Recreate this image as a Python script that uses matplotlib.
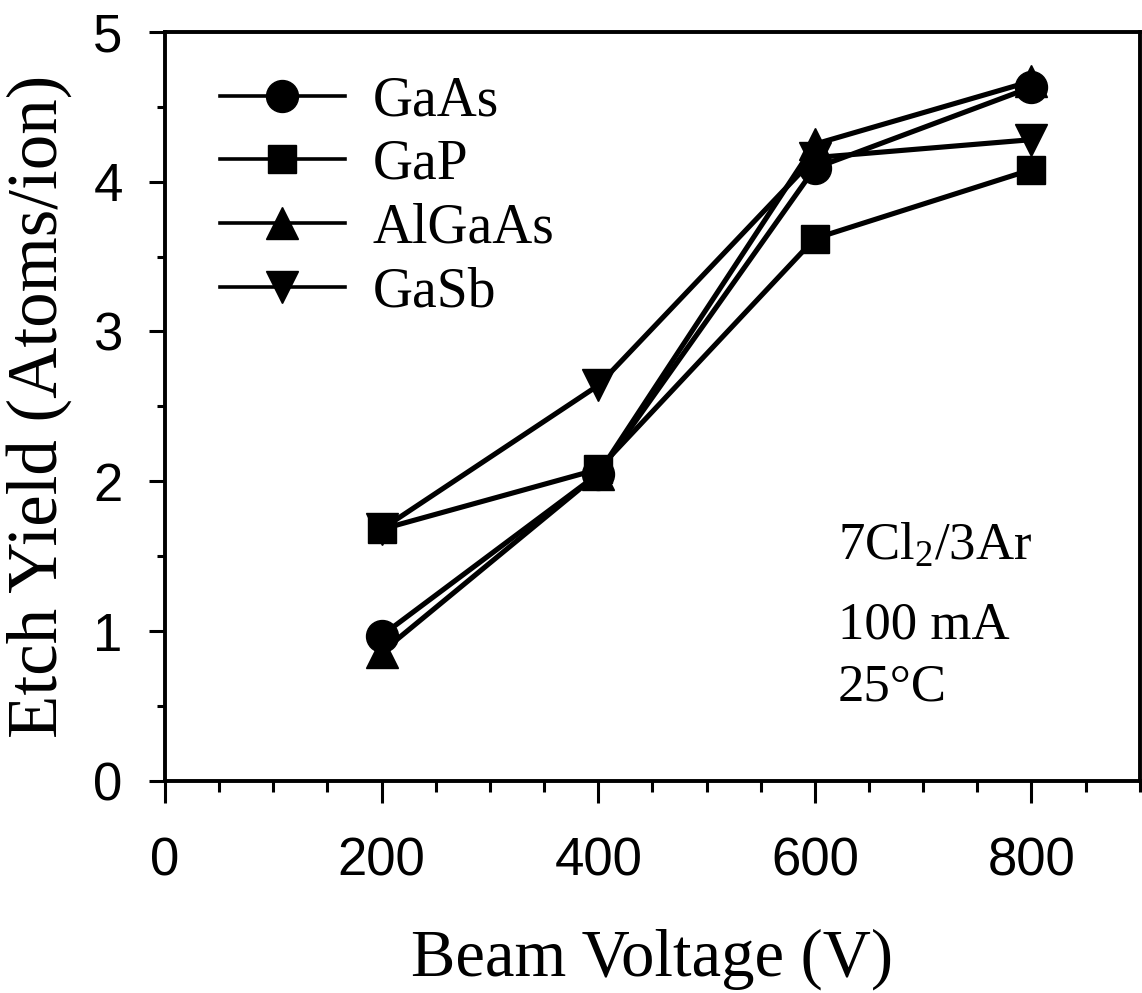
import matplotlib
matplotlib.use("Agg")
import matplotlib.pyplot as plt
from matplotlib.ticker import MultipleLocator

# Etch yield vs. beam voltage for four III-V materials
voltage = [200, 400, 600, 800]
gaas = [0.97, 2.05, 4.09, 4.63]
gap = [1.68, 2.08, 3.62, 4.08]
algaas = [0.86, 2.05, 4.25, 4.67]
gasb = [1.68, 2.64, 4.16, 4.28]

series = [
    ("GaAs", gaas, "o", 23),
    ("GaP", gap, "s", 20),
    ("AlGaAs", algaas, "^", 23),
    ("GaSb", gasb, "v", 23),
]

serif = "Liberation Serif"
sans = "Liberation Sans"
plt.rcParams["mathtext.fontset"] = "custom"
plt.rcParams["mathtext.rm"] = serif
plt.rcParams["mathtext.it"] = serif + ":italic"

fig = plt.figure(figsize=(11.42, 9.93), dpi=100)
ax = fig.add_axes([0.1445, 0.2135, 0.8535, 0.7545])

for name, vals, mk, ms in series:
    ax.plot(voltage, vals, color="black", lw=3.7, marker=mk, ms=ms,
            markerfacecolor="black", markeredgecolor="black", label=name)

ax.set_xlim(0, 900)
ax.set_ylim(0, 5)
ax.xaxis.set_major_locator(MultipleLocator(200))
ax.xaxis.set_minor_locator(MultipleLocator(50))
ax.yaxis.set_major_locator(MultipleLocator(1))
ax.yaxis.set_minor_locator(MultipleLocator(0.5))

for s in ax.spines.values():
    s.set_linewidth(2.8)

ax.tick_params(axis="x", which="major", direction="out", length=16, width=2.2, pad=24)
ax.tick_params(axis="x", which="minor", direction="out", length=8, width=2.2)
ax.tick_params(axis="y", which="major", direction="out", length=11.5, width=2.2, pad=19)
ax.tick_params(axis="y", which="minor", direction="out", length=6, width=2.2)

for lab in ax.get_xticklabels() + ax.get_yticklabels():
    lab.set_fontfamily(sans)
    lab.set_fontsize(38)

ax.set_xlabel("Beam Voltage (V)", fontfamily=serif, fontsize=48, labelpad=30)
ax.set_ylabel("Etch Yield (Atoms/ion)", fontfamily=serif, fontsize=51, labelpad=15)

leg = ax.legend(loc="upper left", bbox_to_anchor=(0.0564, 0.942), frameon=False,
                prop={"family": serif, "size": 40}, handlelength=2.25,
                handletextpad=0.5, labelspacing=0.21, borderpad=0,
                borderaxespad=0, numpoints=1)
for h in leg.legend_handles:
    h.set_linewidth(2.6)

ax.text(0.69, 0.295, r"7Cl$_2$/3Ar", transform=ax.transAxes,
        fontfamily=serif, fontsize=38, ha="left", va="baseline")
ax.text(0.69, 0.19, "100 mA", transform=ax.transAxes,
        fontfamily=serif, fontsize=38, ha="left", va="baseline")
ax.text(0.69, 0.108, "25°C", transform=ax.transAxes,
        fontfamily=serif, fontsize=38, ha="left", va="baseline")

fig.savefig("out.png", dpi=100)
